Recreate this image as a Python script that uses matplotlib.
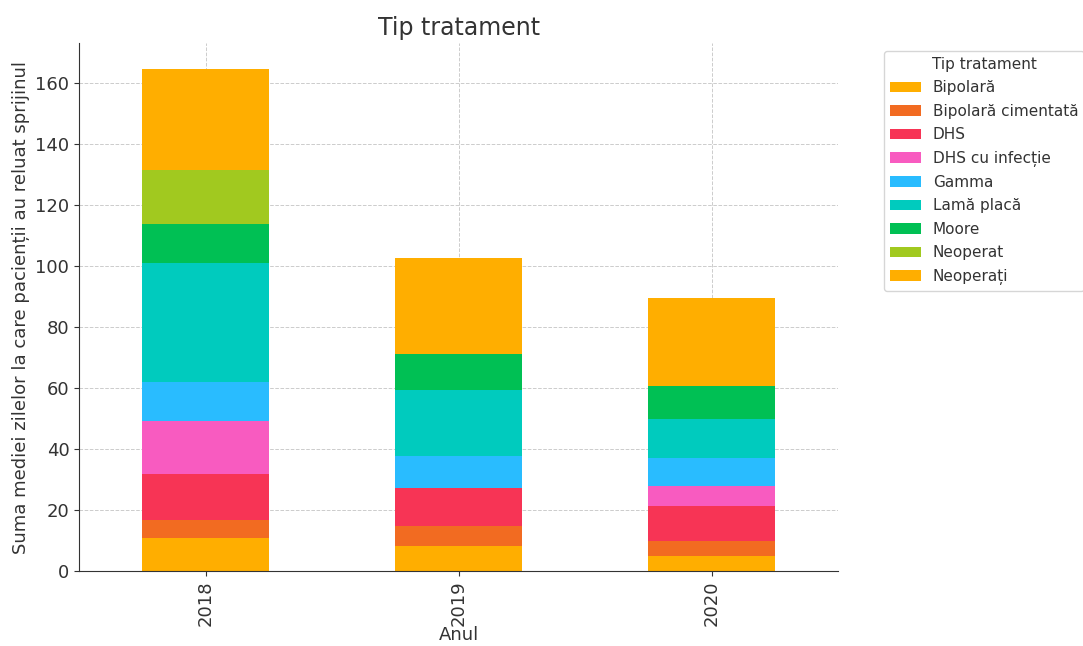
import numpy as np
import matplotlib
matplotlib.use('Agg')
import matplotlib.pyplot as plt

# Anii
ani = ['2018', '2019', '2020']
# Tipuri de tratament
tipuri = ['Bipolară', 'Bipolară cimentată', 'DHS', 'DHS cu infecție', 'Gamma',
          'Lamă placă', 'Moore', 'Neoperat', 'Neoperați']
# Valori (suma mediei zilelor) pe tip, pentru 2018, 2019, 2020
bipolara = [11.0, 8.1, 5.1]
bipolara_cim = [5.8, 6.6, 4.7]
dhs = [15.1, 12.4, 11.4]
dhs_inf = [17.4, 0.0, 6.7]
gamma = [12.6, 10.6, 9.3]
lama = [39.1, 21.8, 12.8]
moore = [12.7, 11.7, 10.5]
neoperat = [17.6, 0.0, 0.0]
neoperati = [33.4, 31.3, 29.1]

valori = [bipolara, bipolara_cim, dhs, dhs_inf, gamma, lama, moore, neoperat, neoperati]
culori = ['#FFAE00', '#F26B21', '#F73455', '#F85BC0', '#29BCFF',
          '#00CBBE', '#00C054', '#A1C91F', '#FFAE00']

plt.rcParams['text.color'] = '#333333'
plt.rcParams['axes.labelcolor'] = '#333333'
plt.rcParams['xtick.color'] = '#333333'
plt.rcParams['ytick.color'] = '#333333'

fig = plt.figure(figsize=(10.83, 6.46), dpi=100)
ax = fig.add_axes([0.073, 0.116, 0.701, 0.817])

x = np.arange(len(ani))
baza = np.zeros(len(ani))
for nume, v, c in zip(tipuri, valori, culori):
    v = np.array(v)
    ax.bar(x, v, width=0.5, bottom=baza, color=c, label=nume, zorder=2)
    baza += v

ax.set_xlim(-0.5, 2.5)
ax.set_ylim(0, 173)
ax.set_xticks(x)
ax.set_xticklabels(ani, rotation=90)
ax.grid(True, linestyle='--', color='#cccccc', linewidth=0.7, zorder=0)
ax.set_axisbelow(True)
for s in ['top', 'right']:
    ax.spines[s].set_visible(False)
ax.spines['left'].set_color('#333333')
ax.spines['bottom'].set_color('#333333')
ax.tick_params(labelsize=13)

ax.set_title('Tip tratament', fontsize=17)
ax.set_xlabel('Anul', fontsize=13, labelpad=0)
ax.set_ylabel('Suma mediei zilelor la care pacienții au reluat sprijinul', fontsize=13)

leg = ax.legend(title='Tip tratament', bbox_to_anchor=(1.05, 1.0), loc='upper left',
                fontsize=11, title_fontsize=11, labelspacing=0.55)
leg.get_frame().set_edgecolor('#cccccc')

fig.savefig('out.png', dpi=100)
